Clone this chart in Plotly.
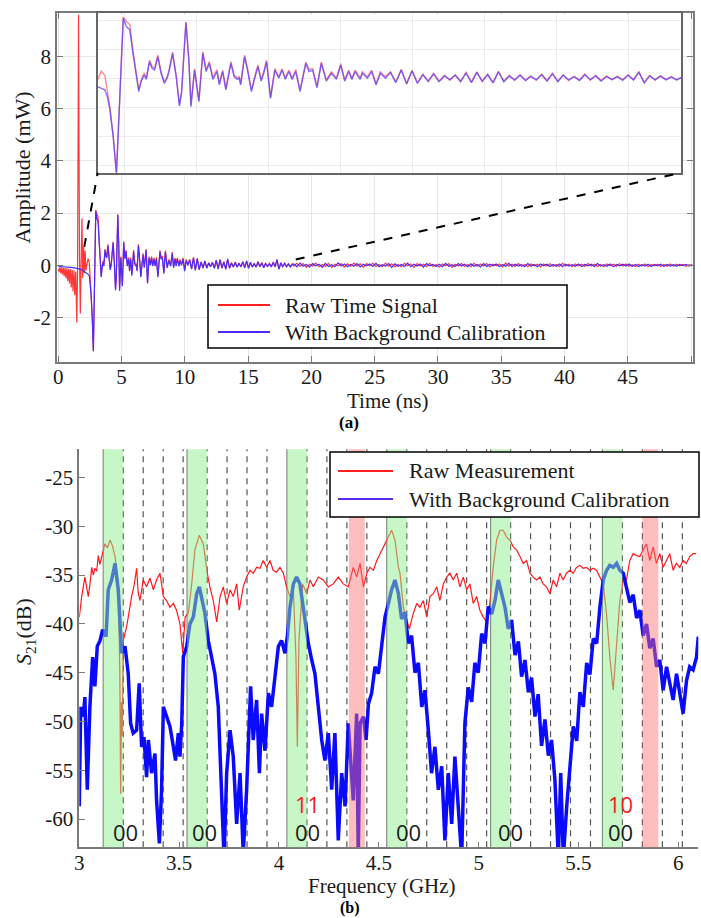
import numpy as np
import plotly.graph_objects as go

W, H = 701, 918

# ---------------- (a) time-domain signal ----------------
t_raw_early = [0.00, 0.05, 0.12, 0.18, 0.26, 0.32, 0.40, 0.46, 0.54, 0.60,
               0.68, 0.74, 0.82, 0.88, 0.96, 1.02, 1.10, 1.16, 1.24, 1.30,
               1.38, 1.46, 1.52, 1.60, 1.67, 1.74, 1.80, 1.87, 1.93, 2.00,
               2.06, 2.12, 2.18]
raw_early = [-0.15, -0.25, -0.08, -0.30, -0.08, -0.35, -0.10, -0.42, -0.10, -0.50,
             -0.12, -0.60, -0.14, -0.70, -0.15, -0.85, -0.18, -1.00, -0.20, -1.15,
             -0.25, -2.20, -0.30, 9.60, 0.40, -1.85, 0.10, 1.80, -0.50, 0.70,
             -0.30, 0.55, -0.20]
t_cal_early = [0.0, 0.5, 1.0, 1.5, 1.8, 2.0, 2.15]
cal_early = [-0.05, -0.06, -0.08, -0.12, -0.16, -0.22, -0.27]

t_ring = [2.25, 2.35, 2.45, 2.52, 2.59, 2.68, 2.77, 2.87, 2.96, 3.05,
          3.14, 3.23, 3.33, 3.39, 3.46, 3.54, 3.60, 3.69, 3.76, 3.83,
          3.92, 4.01, 4.10, 4.18, 4.24, 4.33, 4.43, 4.52, 4.58, 4.70,
          4.78, 4.84, 4.94, 5.06, 5.17, 5.26, 5.35, 5.45, 5.56, 5.63,
          5.72, 5.81, 5.95, 6.04, 6.13, 6.18, 6.22, 6.33, 6.41, 6.52,
          6.61, 6.70, 6.79, 6.86, 6.94, 7.05, 7.17, 7.28, 7.37, 7.46,
          7.56, 7.65, 7.75, 7.87, 8.03, 8.12, 8.22, 8.34, 8.46, 8.60,
          8.74, 8.88, 9.00, 9.11, 9.22, 9.31, 9.40, 9.54, 9.60, 9.74,
          9.86, 9.98, 10.10, 10.24]
cal_ring = [-0.29, -0.35, -0.40, -0.65, -1.09, -2.00, -3.30, -0.50, 2.07, 1.78,
            1.67, 0.86, -0.06, -0.46, -0.10, 0.11, -0.04, 0.57, 0.34, 0.28,
            0.74, 0.17, -0.18, 0.00, 0.28, 0.86, 0.05, -0.96, -0.50, 1.92,
            0.63, -0.98, 0.28, -0.81, 0.86, 0.23, 0.51, -0.04, 0.23, -0.23,
            0.23, -0.40, 0.51, 0.05, -0.04, 0.00, -0.23, 0.74, 0.28, -0.46,
            0.00, 0.40, -0.10, 0.17, 0.57, -0.70, 0.28, 0.00, 0.28, -0.04,
            0.23, -0.04, 0.23, -0.46, 0.51, 0.23, 0.28, -0.33, 0.51, -0.10,
            0.17, -0.04, 0.45, -0.10, 0.23, -0.04, 0.23, -0.04, 0.17, 0.00,
            0.23, -0.23, 0.17, 0.00]
raw_ring = [-0.05, 0.25, 0.10, -0.45, -1.00, -2.00, -3.30, -0.45, 2.12, 1.95,
            1.85, 0.95, 0.00, -0.40, -0.05, 0.18, 0.02, 0.62, 0.40, 0.35,
            0.80, 0.22, -0.12, 0.05, 0.33, 0.90, 0.10, -0.90, -0.45, 1.95,
            0.70, -0.92, 0.33, -0.76, 0.92, 0.30, 0.58, 0.02, 0.30, -0.18,
            0.28, -0.35, 0.58, 0.10, 0.02, 0.05, -0.18, 0.80, 0.34, -0.40,
            0.05, 0.46, -0.05, 0.22, 0.62, -0.65, 0.33, 0.05, 0.33, 0.02,
            0.28, 0.00, 0.30, -0.40, 0.56, 0.30, 0.33, -0.28, 0.56, -0.05,
            0.22, 0.01, 0.50, -0.05, 0.28, 0.00, 0.28, 0.01, 0.22, 0.05,
            0.28, -0.18, 0.22, 0.05]

# 10.38 ns onward, sampled every 0.15 ns
MID_START, MID_STEP = 10.38, 0.15
cal_mid = [0.20, -0.15, 0.28, -0.20, 0.25, -0.18, 0.12, -0.10, 0.15, -0.12,
           0.08, -0.05, 0.10, -0.12, 0.18, -0.15, 0.20, -0.10, 0.12, -0.16,
           0.22, -0.12, 0.08, -0.06, 0.10, -0.08, 0.06, -0.05, 0.12, -0.10,
           0.15, -0.12, 0.10, -0.06, 0.05, -0.08, 0.12, -0.05, 0.08, -0.10,
           0.06, -0.04, 0.05, -0.07, 0.10, -0.05, 0.20, -0.16, 0.08, -0.05,
           0.07, -0.06, 0.04, -0.05, 0.03]
raw_mid = [0.22, -0.12, 0.30, -0.18, 0.27, -0.15, 0.14, -0.12, 0.17, -0.10,
           0.10, -0.07, 0.12, -0.10, 0.20, -0.13, 0.22, -0.12, 0.14, -0.14,
           0.24, -0.10, 0.10, -0.08, 0.12, -0.06, 0.08, -0.07, 0.14, -0.08,
           0.17, -0.10, 0.12, -0.08, 0.07, -0.06, 0.14, -0.07, 0.10, -0.08,
           0.08, -0.06, 0.07, -0.05, 0.12, -0.07, 0.22, -0.14, 0.10, -0.07,
           0.09, -0.04, 0.06, -0.07, 0.05]

# 18.6 ns onward, sampled every 0.25 ns
TAIL_START, TAIL_STEP = 18.6, 0.25
cal_tail = [0.05, -0.06, 0.08, -0.04, 0.03, -0.07, 0.06, -0.02, 0.04, -0.08,
            0.07, -0.05, 0.02, -0.06, 0.09, -0.03, 0.05, -0.06, 0.03, -0.04,
            0.06, -0.07, 0.04, -0.02, 0.05, -0.05, 0.07, -0.06, 0.02, -0.03,
            0.06, -0.08, 0.05, -0.04, 0.03, -0.05, 0.08, -0.06, 0.04, -0.03,
            0.05, -0.07, 0.06, -0.02, 0.03, -0.05, 0.04, -0.06, 0.07, -0.04,
            0.02, -0.05, 0.06, -0.03, 0.04, -0.06, 0.05, -0.04, 0.03, -0.07,
            0.06, -0.05, 0.04, -0.02, 0.05, -0.06, 0.03, -0.04, 0.07, -0.05,
            0.04, -0.03, 0.02, -0.05, 0.06, -0.04, 0.03, -0.06, 0.05, -0.02,
            0.04, -0.05, 0.03, -0.04, 0.05, -0.06, 0.04, -0.03, 0.02, -0.04,
            0.05, -0.05, 0.03, -0.02, 0.04, -0.05, 0.06, -0.03, 0.02, -0.04,
            0.05, -0.06, 0.03, -0.02, 0.04, -0.03, 0.05, -0.04, 0.03, -0.05,
            0.02, -0.03, 0.04, -0.05, 0.03, -0.02, 0.04, -0.04, 0.03, -0.03,
            0.02, -0.04, 0.03, -0.02, 0.03, -0.03, 0.02]
raw_tail = [-0.03, 0.07, -0.05, 0.06, -0.08, 0.04, -0.03, 0.08, -0.06, 0.03,
            -0.05, 0.07, -0.09, 0.04, -0.02, 0.06, -0.07, 0.05, -0.04, 0.08,
            -0.03, 0.05, -0.08, 0.06, -0.02, 0.07, -0.05, 0.03, -0.06, 0.08,
            -0.04, 0.05, -0.07, 0.03, -0.06, 0.07, -0.02, 0.05, -0.08, 0.06,
            -0.03, 0.04, -0.06, 0.07, -0.05, 0.03, -0.07, 0.05, -0.02, 0.06,
            -0.08, 0.04, -0.03, 0.06, -0.05, 0.03, -0.06, 0.07, -0.04, 0.05,
            -0.03, 0.06, -0.07, 0.04, -0.02, 0.05, -0.06, 0.08, -0.03, 0.04,
            -0.05, 0.06, -0.04, 0.03, -0.06, 0.05, -0.02, 0.04, -0.07, 0.05,
            -0.03, 0.06, -0.04, 0.03, -0.05, 0.07, -0.03, 0.04, -0.06, 0.05,
            -0.02, 0.04, -0.05, 0.06, -0.03, 0.04, -0.05, 0.03, -0.06, 0.05,
            -0.02, 0.04, -0.04, 0.06, -0.03, 0.05, -0.04, 0.02, -0.05, 0.04,
            -0.03, 0.05, -0.06, 0.03, -0.02, 0.04, -0.05, 0.03, -0.04, 0.05,
            -0.03, 0.04, -0.02, 0.03, -0.04, 0.02, -0.03]

time_ticks = [0, 5, 10, 15, 20, 25, 30, 35, 40, 45, 50]
time_ticktext = ["0", "5", "10", "15", "20", "25", "30", "35", "40", "45", "50"]
amp_ticks = [-2, 0, 2, 4, 6, 8]
amp_ticktext = ["-2", "0", "2", "4", "6", "8"]

# ---------------- (b) S21 spectrum ----------------
f_raw = [3.000, 3.012, 3.028, 3.037, 3.045, 3.053, 3.062, 3.070, 3.078, 3.087,
         3.095, 3.103, 3.112, 3.120, 3.128, 3.141, 3.154, 3.166, 3.179, 3.195,
         3.203, 3.207, 3.211, 3.215, 3.220, 3.237, 3.262, 3.275, 3.287, 3.295,
         3.304, 3.320, 3.337, 3.354, 3.371, 3.387, 3.404, 3.421, 3.437, 3.454,
         3.471, 3.487, 3.504, 3.518, 3.530, 3.546, 3.563, 3.579, 3.601, 3.621,
         3.641, 3.654, 3.671, 3.688, 3.705, 3.721, 3.738, 3.755, 3.771, 3.788,
         3.801, 3.821, 3.838, 3.855, 3.871, 3.888, 3.905, 3.921, 3.938, 3.955,
         3.971, 3.988, 4.005, 4.022, 4.038, 4.055, 4.072, 4.085, 4.092, 4.100,
         4.118, 4.139, 4.155, 4.172, 4.197, 4.222, 4.247, 4.272, 4.297, 4.322,
         4.347, 4.356, 4.372, 4.389, 4.406, 4.423, 4.440, 4.456, 4.473, 4.490,
         4.506, 4.523, 4.544, 4.564, 4.581, 4.598, 4.606, 4.623, 4.640, 4.653,
         4.673, 4.690, 4.706, 4.723, 4.740, 4.756, 4.773, 4.790, 4.806, 4.823,
         4.840, 4.856, 4.873, 4.890, 4.906, 4.923, 4.940, 4.956, 4.973, 4.990,
         5.006, 5.023, 5.040, 5.056, 5.073, 5.090, 5.107, 5.123, 5.140, 5.157,
         5.173, 5.190, 5.207, 5.223, 5.240, 5.257, 5.273, 5.290, 5.307, 5.323,
         5.340, 5.357, 5.373, 5.390, 5.407, 5.423, 5.440, 5.457, 5.473, 5.490,
         5.507, 5.523, 5.540, 5.557, 5.573, 5.590, 5.607, 5.624, 5.640, 5.657,
         5.674, 5.690, 5.707, 5.724, 5.740, 5.757, 5.774, 5.790, 5.807, 5.824,
         5.840, 5.857, 5.874, 5.890, 5.907, 5.924, 5.940, 5.957, 5.974, 5.990,
         6.007, 6.024, 6.040, 6.057, 6.074, 6.090]
s21_raw = [-39.3, -37.2, -35.2, -36.5, -37.2, -36.0, -34.2, -35.0, -34.3, -34.6,
           -33.0, -33.9, -33.3, -32.5, -31.8, -32.2, -31.4, -32.0, -33.1, -35.9,
           -45.0, -57.4, -48.0, -51.5, -41.7, -40.3, -37.2, -36.0, -34.3, -36.8,
           -37.6, -35.5, -36.2, -35.3, -36.5, -35.5, -34.8, -37.2, -37.6, -38.3,
           -37.9, -38.6, -40.0, -43.0, -39.3, -38.9, -35.9, -32.4, -30.9, -31.8,
           -34.8, -36.2, -37.6, -39.8, -37.2, -36.2, -37.9, -36.5, -37.2, -35.9,
           -38.6, -36.2, -35.2, -34.5, -34.8, -34.2, -34.3, -33.5, -34.2, -33.5,
           -34.5, -34.7, -34.2, -34.8, -36.2, -37.2, -36.5, -43.4, -52.6, -41.7,
           -35.9, -36.9, -35.5, -36.2, -35.2, -35.5, -36.2, -35.9, -35.2, -35.9,
           -36.2, -35.5, -34.2, -35.2, -33.8, -36.2, -34.8, -34.2, -34.5, -33.5,
           -32.8, -32.1, -31.1, -30.4, -31.4, -34.2, -34.8, -38.3, -39.6, -40.5,
           -38.9, -37.9, -38.3, -37.6, -39.3, -37.2, -36.9, -36.2, -37.6, -35.9,
           -35.2, -34.8, -35.5, -34.8, -36.2, -35.2, -36.5, -35.9, -37.9, -37.2,
           -38.6, -39.3, -39.8, -37.9, -34.2, -31.4, -30.4, -30.4, -31.1, -31.4,
           -32.1, -32.4, -33.1, -33.8, -33.5, -34.8, -35.2, -35.5, -35.2, -35.9,
           -36.2, -36.9, -35.5, -36.2, -34.8, -35.5, -34.8, -34.5, -34.8, -34.2,
           -34.0, -34.3, -34.2, -34.5, -34.3, -34.5, -35.2, -35.9, -38.9, -43.4,
           -46.8, -42.3, -37.6, -35.5, -35.5, -33.5, -32.8, -33.0, -33.1, -32.4,
           -31.8, -33.5, -32.1, -33.8, -32.8, -34.2, -33.5, -32.8, -34.5, -33.8,
           -34.2, -33.5, -33.8, -33.1, -32.8, -32.8]

f_cal = [3.000, 3.007, 3.020, 3.028, 3.040, 3.053, 3.067, 3.078, 3.090, 3.104,
         3.117, 3.134, 3.145, 3.162, 3.179, 3.195, 3.212, 3.229, 3.245, 3.257,
         3.270, 3.287, 3.300, 3.312, 3.324, 3.337, 3.346, 3.362, 3.379, 3.387,
         3.401, 3.412, 3.421, 3.437, 3.454, 3.471, 3.482, 3.496, 3.504, 3.513,
         3.521, 3.538, 3.554, 3.571, 3.588, 3.601, 3.613, 3.629, 3.646, 3.663,
         3.679, 3.696, 3.705, 3.713, 3.725, 3.738, 3.755, 3.771, 3.788, 3.805,
         3.821, 3.838, 3.846, 3.858, 3.871, 3.888, 3.902, 3.913, 3.930, 3.947,
         3.963, 3.980, 3.997, 4.013, 4.030, 4.042, 4.055, 4.072, 4.088, 4.105,
         4.122, 4.135, 4.147, 4.164, 4.180, 4.197, 4.214, 4.230, 4.247, 4.264,
         4.280, 4.297, 4.314, 4.331, 4.347, 4.372, 4.389, 4.397, 4.406, 4.423,
         4.436, 4.448, 4.464, 4.481, 4.498, 4.514, 4.531, 4.548, 4.564, 4.581,
         4.598, 4.614, 4.631, 4.648, 4.664, 4.681, 4.698, 4.715, 4.731, 4.748,
         4.764, 4.781, 4.798, 4.815, 4.831, 4.848, 4.865, 4.881, 4.898, 4.915,
         4.931, 4.948, 4.965, 4.981, 4.998, 5.015, 5.032, 5.048, 5.065, 5.082,
         5.098, 5.115, 5.132, 5.148, 5.165, 5.182, 5.199, 5.215, 5.232, 5.249,
         5.265, 5.282, 5.298, 5.315, 5.332, 5.349, 5.365, 5.382, 5.399, 5.411,
         5.424, 5.441, 5.457, 5.474, 5.491, 5.507, 5.524, 5.541, 5.557, 5.574,
         5.591, 5.607, 5.624, 5.641, 5.657, 5.674, 5.691, 5.707, 5.724, 5.741,
         5.757, 5.774, 5.791, 5.807, 5.824, 5.841, 5.857, 5.874, 5.891, 5.907,
         5.924, 5.941, 5.957, 5.974, 5.991, 6.007, 6.024, 6.041, 6.057, 6.074,
         6.091, 6.100]
s21_cal = [-58.7, -48.5, -49.5, -47.5, -57.0, -48.5, -43.4, -46.4, -42.3, -41.7,
           -40.6, -41.3, -36.5, -35.5, -33.8, -36.5, -43.0, -42.3, -45.1, -50.2,
           -51.2, -50.9, -46.1, -52.6, -51.6, -55.7, -51.9, -55.3, -53.3, -58.1,
           -62.5, -57.0, -48.5, -49.5, -50.5, -52.6, -54.0, -51.2, -53.6, -50.2,
           -43.4, -42.3, -40.0, -39.3, -36.9, -36.2, -37.2, -38.9, -41.7, -43.7,
           -45.1, -48.5, -53.6, -58.7, -64.0, -55.3, -50.9, -53.6, -60.5, -55.3,
           -63.5, -57.0, -51.9, -46.4, -51.9, -47.8, -55.3, -49.2, -53.0, -47.1,
           -48.5, -45.1, -42.3, -41.7, -43.0, -41.3, -38.3, -35.9, -35.2, -35.9,
           -38.6, -40.3, -42.0, -43.7, -45.1, -48.5, -51.9, -54.0, -51.2, -57.0,
           -51.2, -62.2, -55.3, -58.7, -50.2, -58.1, -49.2, -64.0, -50.2, -49.5,
           -51.9, -48.2, -47.1, -44.4, -45.1, -42.3, -39.3, -37.9, -36.5, -35.5,
           -36.9, -39.5, -38.8, -42.0, -41.2, -45.0, -44.0, -48.5, -46.8, -50.9,
           -55.3, -52.6, -57.0, -54.6, -62.2, -55.3, -60.5, -53.6, -58.7, -64.0,
           -50.2, -46.5, -48.0, -44.0, -45.0, -41.0, -42.0, -38.2, -39.0, -37.6,
           -35.5, -36.9, -38.3, -40.5, -39.6, -43.2, -41.8, -45.4, -43.7, -47.0,
           -45.5, -49.5, -47.2, -52.5, -49.8, -53.5, -51.9, -56.0, -64.0, -55.3,
           -64.0, -58.7, -54.6, -50.5, -52.0, -47.0, -48.5, -44.0, -45.2, -41.5,
           -42.0, -38.3, -35.5, -34.5, -34.0, -34.2, -33.8, -34.5, -34.8, -36.2,
           -37.8, -37.0, -39.4, -38.6, -41.2, -40.0, -42.5, -41.5, -44.4, -43.7,
           -46.8, -44.4, -46.1, -47.8, -45.1, -47.1, -49.2, -45.8, -44.4, -44.7,
           -43.4, -41.3]

green_bands = [(3.12, 3.22), (3.54, 3.64), (4.04, 4.14), (4.54, 4.64), (5.06, 5.16), (5.62, 5.72)]
red_bands = [(4.35, 4.43), (5.82, 5.90)]
solid_lines = [3.12, 3.54, 4.04, 4.54, 5.06, 5.62]
dashed_lines = [3.22, 3.32, 3.42, 3.52, 3.64, 3.74, 3.84, 3.94, 4.14, 4.24, 4.34, 4.44,
                4.64, 4.74, 4.84, 4.94, 5.04, 5.16, 5.26, 5.36, 5.46, 5.56, 5.72, 5.82,
                5.92, 6.02]
code_pos = [3.23, 3.625, 4.143, 4.65, 5.16, 5.71]
code_low = ["00", "00", "00", "00", "00", "00"]
code_high = {4.143: "11", 5.71: "10"}

freq_ticks = [3, 3.5, 4, 4.5, 5, 5.5, 6]
freq_ticktext = ["3", "3.5", "4", "4.5", "5", "5.5", "6"]
s21_ticks = [-60, -55, -50, -45, -40, -35, -30, -25]
s21_ticktext = ["-60", "-55", "-50", "-45", "-40", "-35", "-30", "-25"]

# ---------------- assemble series ----------------
t_mid_raw = list(MID_START + MID_STEP * np.arange(len(raw_mid)))
t_mid_cal = list(MID_START + MID_STEP * np.arange(len(cal_mid)))
t_tail_raw = list(TAIL_START + TAIL_STEP * np.arange(len(raw_tail)))
t_tail_cal = list(TAIL_START + TAIL_STEP * np.arange(len(cal_tail)))

t_raw = t_raw_early + t_ring + t_mid_raw + t_tail_raw
v_raw = raw_early + raw_ring + raw_mid + raw_tail
t_cal = t_cal_early + t_ring + t_mid_cal + t_tail_cal
v_cal = cal_early + cal_ring + cal_mid + cal_tail

SERIF = "Liberation Serif"
TICKFONT = dict(family=SERIF, size=21, color="#1a1a1a")
RED = "#ff1a1a"
BLUE_A = "#4a2cff"
BLUE_B = "#0a0aff"

fig = go.Figure()

fig.add_trace(go.Scatter(x=t_raw, y=v_raw, xaxis="x", yaxis="y", mode="lines",
                         line=dict(color="rgba(255,20,20,0.85)", width=1.2), showlegend=False))
fig.add_trace(go.Scatter(x=t_cal, y=v_cal, xaxis="x", yaxis="y", mode="lines",
                         line=dict(color=BLUE_A, width=1.2), showlegend=False))
fig.add_trace(go.Scatter(x=t_raw, y=v_raw, xaxis="x2", yaxis="y2", mode="lines",
                         line=dict(color="rgba(255,60,60,0.6)", width=1.4), showlegend=False))
fig.add_trace(go.Scatter(x=t_cal, y=v_cal, xaxis="x2", yaxis="y2", mode="lines",
                         line=dict(color="rgba(90,60,255,0.75)", width=1.4), showlegend=False))
fig.add_trace(go.Scatter(x=f_raw, y=s21_raw, xaxis="x3", yaxis="y3", mode="lines",
                         line=dict(color=RED, width=1.2), showlegend=False))
fig.add_trace(go.Scatter(x=f_cal, y=s21_cal, xaxis="x3", yaxis="y3", mode="lines",
                         line=dict(color=BLUE_B, width=3.5), showlegend=False))

def dom_x(a, b):
    return [a / W, b / W]

def dom_y(top, bottom):
    return [1 - bottom / H, 1 - top / H]

AX_LINE = "#7a7a7a"
X_RANGE = [-0.08, 50.15]
Y_RANGE = [-3.7, 9.67]
X2_RANGE = [2.25, 18.45]
Y2_RANGE = [-3.26, 2.24]

common = dict(automargin=False, zeroline=False)
fig.update_layout(
    width=W, height=H, margin=dict(l=0, r=0, t=0, b=0, autoexpand=False),
    paper_bgcolor="white", plot_bgcolor="rgba(0,0,0,0)", showlegend=False,
    xaxis=dict(domain=dom_x(57.3, 693.0), range=X_RANGE, anchor="y",
               tickvals=time_ticks, ticktext=time_ticktext, tickfont=TICKFONT,
               ticks="inside", ticklen=6, tickcolor=AX_LINE, showline=True, linecolor=AX_LINE,
               linewidth=2, mirror="ticks", showgrid=True, gridcolor="#e7e7e7",
               ticklabelstandoff=-5, **common),
    yaxis=dict(domain=dom_y(13.0, 361.7), range=Y_RANGE, anchor="x",
               tickvals=amp_ticks, ticktext=amp_ticktext, tickfont=TICKFONT,
               ticks="inside", ticklen=6, tickcolor=AX_LINE, showline=True, linecolor=AX_LINE,
               linewidth=2, mirror="ticks", showgrid=True, gridcolor="#e7e7e7", **common),
    xaxis2=dict(domain=dom_x(97.7, 681.0), range=X2_RANGE, anchor="y2",
                tick0=1, dtick=2, showticklabels=False, ticks="", showline=True,
                linecolor="#666666", linewidth=1.6, mirror=True, showgrid=True,
                gridcolor="#ececec", **common),
    yaxis2=dict(domain=dom_y(13.3, 172.7), range=Y2_RANGE, anchor="x2",
                tick0=0, dtick=1, showticklabels=False, ticks="", showline=True,
                linecolor="#666666", linewidth=1.6, mirror=True, showgrid=True,
                gridcolor="#ececec", **common),
    xaxis3=dict(domain=dom_x(79.3, 698.3), range=[3.0, 6.1], anchor="y3",
                tickvals=freq_ticks, ticktext=freq_ticktext, tickfont=TICKFONT,
                ticks="inside", ticklen=6, tickcolor=AX_LINE, showline=True, linecolor=AX_LINE,
                linewidth=1.6, showgrid=False, ticklabelstandoff=-4, **common),
    yaxis3=dict(domain=dom_y(449.3, 847.3), range=[-62.9, -22.1], anchor="x3",
                tickvals=s21_ticks, ticktext=s21_ticktext, tickfont=TICKFONT,
                ticks="inside", ticklen=6, tickcolor=AX_LINE, showline=True, linecolor=AX_LINE,
                linewidth=1.6, showgrid=False, **common),
)

shapes = []
shapes.append(dict(type="rect", xref="x2", yref="y2", x0=X2_RANGE[0], x1=X2_RANGE[1],
                   y0=Y2_RANGE[0], y1=Y2_RANGE[1], fillcolor="white",
                   line=dict(width=0), layer="below"))
x_inset_l = X_RANGE[0] + (97.7 - 57.3) / (693.0 - 57.3) * (X_RANGE[1] - X_RANGE[0])
x_inset_r = X_RANGE[0] + (681.0 - 57.3) / (693.0 - 57.3) * (X_RANGE[1] - X_RANGE[0])
y_inset_b = Y_RANGE[1] - (172.7 - 13.0) / (361.7 - 13.0) * (Y_RANGE[1] - Y_RANGE[0])
shapes.append(dict(type="line", xref="x", yref="y", x0=2.05, y0=0.7, x1=x_inset_l, y1=y_inset_b,
                   line=dict(color="black", width=2, dash="dash"), layer="above"))
shapes.append(dict(type="line", xref="x", yref="y", x0=18.76, y0=0.22, x1=x_inset_r, y1=y_inset_b,
                   line=dict(color="black", width=2, dash="dash"), layer="above"))

for fx in dashed_lines:
    shapes.append(dict(type="line", xref="x3", yref="y3 domain", x0=fx, x1=fx, y0=0, y1=1,
                       line=dict(color="#555555", width=1.2, dash="6px,5px"), layer="below"))
for fx in solid_lines:
    shapes.append(dict(type="line", xref="x3", yref="y3 domain", x0=fx, x1=fx, y0=0, y1=1,
                       line=dict(color="#777777", width=1.2), layer="below"))
for a, b in green_bands:
    shapes.append(dict(type="rect", xref="x3", yref="y3 domain", x0=a, x1=b, y0=0, y1=1,
                       fillcolor="rgb(144,238,144)", opacity=0.5, line=dict(width=0), layer="above"))
for a, b in red_bands:
    shapes.append(dict(type="rect", xref="x3", yref="y3 domain", x0=a, x1=b, y0=0, y1=1,
                       fillcolor="rgb(255,110,110)", opacity=0.45, line=dict(width=0), layer="above"))

def px(xp):
    return xp / W

def py(yp):
    return 1 - yp / H

def legend_box(x0, x1, y0, y1, rows):
    shapes.append(dict(type="rect", xref="paper", yref="paper", x0=px(x0), x1=px(x1),
                       y0=py(y1), y1=py(y0), fillcolor="white",
                       line=dict(color="black", width=1.5), layer="above"))
    for (lx0, lx1, ly, color, _txt, _tx) in rows:
        shapes.append(dict(type="line", xref="paper", yref="paper", x0=px(lx0), x1=px(lx1),
                           y0=py(ly), y1=py(ly), line=dict(color=color, width=2), layer="above"))

leg_a = [(218, 270, 305, "#ff2020", "Raw Time Signal", 283),
         (218, 270, 332, BLUE_A, "With Background Calibration", 283)]
leg_b = [(338, 393, 471, "#ff2020", "Raw Measurement", 407),
         (338, 393, 499, "#5a2cf0", "With Background Calibration", 407)]
legend_box(208, 567, 285, 348, leg_a)
legend_box(330, 699, 452, 517, leg_b)

annotations = []
for rows in (leg_a, leg_b):
    for (lx0, lx1, ly, color, txt, tx) in rows:
        annotations.append(dict(xref="paper", yref="paper", x=px(tx), y=py(ly), text=txt,
                                showarrow=False, xanchor="left", yanchor="middle",
                                font=dict(family=SERIF, size=22, color="#1a1a1a")))

annotations += [
    dict(xref="paper", yref="paper", x=px(388), y=py(401), text="Time (ns)", showarrow=False,
         xanchor="center", yanchor="middle", font=dict(family=SERIF, size=21, color="#1a1a1a")),
    dict(xref="paper", yref="paper", x=px(21.5), y=py(168), text="Amplitude (mW)", showarrow=False,
         textangle=-90, xanchor="center", yanchor="middle",
         font=dict(family=SERIF, size=22, color="#1a1a1a")),
    dict(xref="paper", yref="paper", x=px(349), y=py(423), text="<b>(a)</b>", showarrow=False,
         xanchor="center", yanchor="middle", font=dict(family=SERIF, size=17, color="black")),
    dict(xref="paper", yref="paper", x=px(382), y=py(886), text="Frequency (GHz)", showarrow=False,
         xanchor="center", yanchor="middle", font=dict(family=SERIF, size=21, color="#1a1a1a")),
    dict(xref="paper", yref="paper", x=px(25), y=py(632), text="<i>S</i><sub>21</sub>(dB)",
         showarrow=False, textangle=-90, xanchor="center", yanchor="middle",
         font=dict(family=SERIF, size=22, color="#1a1a1a")),
    dict(xref="paper", yref="paper", x=px(350), y=py(908), text="<b>(b)</b>", showarrow=False,
         xanchor="center", yanchor="middle", font=dict(family=SERIF, size=16, color="black")),
]
for fx, lab in zip(code_pos, code_low):
    annotations.append(dict(xref="x3", yref="y3", x=fx, y=-61.3, text=lab, showarrow=False,
                            xanchor="center", yanchor="middle",
                            font=dict(family="Open Sans", size=22, color="#1a1a1a")))
    if fx in code_high:
        annotations.append(dict(xref="x3", yref="y3", x=fx, y=-58.5, text=code_high[fx],
                                showarrow=False, xanchor="center", yanchor="middle",
                                font=dict(family="Open Sans", size=22, color="#ff1a1a")))

fig.update_layout(shapes=shapes, annotations=annotations)
fig.write_html("out.html", config={"displayModeBar": False},
               post_script="document.body.style.margin='0px';document.body.style.padding='0px';")
